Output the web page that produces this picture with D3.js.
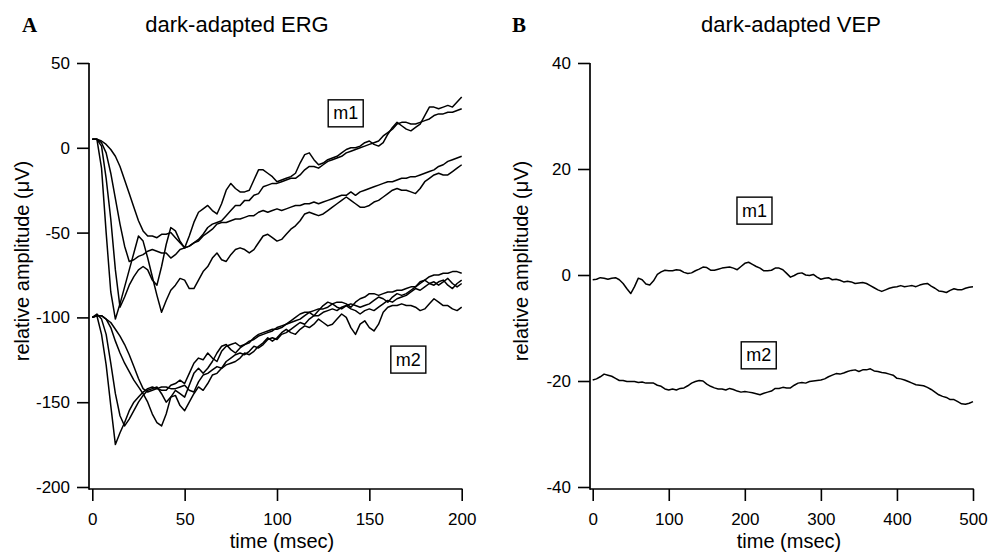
<!DOCTYPE html>
<html>
<head>
<meta charset="utf-8">
<script src="https://cdn.jsdelivr.net/npm/d3@7"></script>
<style>
  body { margin: 0; background: #fff; }
  svg { display: block; font-family: "Liberation Sans", Arial, sans-serif; }
</style>
</head>
<body>
<div id="chart"></div>
<script>
// ERG traces, one value every 2.5 ms from 0 to 200 ms
var ergStep = 2.5
var ergM1 = [
  [5, 5, -12, -50, -85, -101, -92, -82, -72, -62,
   -52, -55, -65, -76, -87, -97, -90, -84, -81, -77,
   -78, -83, -83, -78, -73, -70, -65, -62, -66, -67,
   -63, -60, -59, -60, -62, -60, -56, -52, -51, -53,
   -55, -54, -51, -48, -46, -43, -39, -38, -39, -40,
   -39, -37, -35, -33, -31, -29, -31, -33, -35, -35,
   -34, -32, -31, -29, -27, -25, -24, -25, -25, -26,
   -27, -24, -20, -18, -16, -15, -16, -16, -14, -12,
   -10],
  [5, 5, 1, -18, -42, -72, -94, -88, -81, -76,
   -72, -70, -72, -78, -81, -70, -57, -47, -49, -55,
   -59, -52, -44, -38, -36, -34, -37, -39, -33, -25,
   -21, -24, -26, -26, -25, -19, -13, -13, -15, -17,
   -20, -19, -18, -17, -15, -9, -4, -3, -7, -10,
   -9, -7, -6, -5, -3, -1, 0, 0, 1, 3,
   4, 2, 1, 3, 8, 12, 15, 13, 11, 10,
   12, 14, 19, 24, 24, 23, 24, 25, 24, 27,
   30],
  [5, 5, 3, -3, -15, -30, -45, -58, -67, -66,
   -64, -63, -61, -60, -61, -62, -62, -65, -63, -60,
   -59, -58, -56, -54, -51, -47, -45, -44, -43, -40,
   -37, -34, -34, -31, -31, -28, -27, -23, -22, -21,
   -21, -20, -19, -18, -18, -16, -13, -11, -11, -12,
   -10, -8, -7, -6, -5, -3, -2, -1, 0, 1,
   2, 3, 4, 7, 9, 11, 14, 15, 15, 14,
   14, 15, 16, 17, 19, 20, 20, 21, 21, 22,
   23],
  [5, 5, 4, 2, -1, -5, -11, -19, -27, -35,
   -43, -49, -52, -52, -53, -51, -51, -50, -53, -56,
   -59, -58, -56, -55, -52, -50, -48, -45, -44, -44,
   -43, -42, -42, -41, -40, -40, -38, -37, -38, -37,
   -36, -37, -36, -35, -34, -34, -33, -33, -32, -33,
   -32, -31, -30, -29, -28, -28, -26, -28, -26, -25,
   -24, -23, -22, -21, -20, -20, -19, -18, -18, -17,
   -17, -16, -15, -14, -13, -11, -10, -8, -7, -6,
   -5]
]
var ergM2 = [
  [-100, -99, -110, -128, -152, -175, -168, -162, -155, -150,
   -147, -144, -142, -141, -142, -143, -143, -140, -139, -137,
   -139, -133, -127, -124, -125, -121, -124, -126, -120, -117,
   -116, -115, -117, -116, -114, -113, -111, -110, -109, -108,
   -106, -105, -104, -103, -102, -101, -99, -97, -96, -95,
   -95, -94, -92, -91, -91, -92, -94, -91, -89, -88,
   -86, -86, -87, -86, -85, -85, -84, -84, -83, -82,
   -82, -80, -78, -76, -75, -75, -74, -74, -73, -73,
   -74],
  [-100, -98, -101, -110, -127, -145, -158, -164, -160, -155,
   -150, -146, -143, -142, -141, -145, -150, -147, -143, -145,
   -147, -140, -133, -130, -133, -130, -126, -121, -117, -116,
   -119, -121, -118, -116, -115, -112, -110, -109, -108, -107,
   -107, -106, -104, -102, -100, -98, -97, -97, -99, -96,
   -93, -91, -92, -94, -95, -93, -92, -93, -94, -93,
   -92, -90, -88, -89, -91, -88, -86, -87, -86, -84,
   -82, -79, -78, -80, -81, -79, -78, -81, -83, -80,
   -78],
  [-100, -99, -99, -101, -106, -114, -121, -127, -132, -137,
   -141, -145, -150, -157, -162, -164, -157, -147, -146, -152,
   -155, -150, -145, -141, -143, -139, -134, -133, -130, -128,
   -127, -126, -124, -121, -122, -120, -117, -115, -112, -114,
   -112, -109, -107, -109, -110, -107, -105, -106, -104, -101,
   -103, -105, -104, -101, -98, -100, -106, -110, -104, -102,
   -106, -108, -104, -97, -94, -93, -93, -92, -93, -93,
   -94, -96, -95, -92, -89, -91, -93, -93, -95, -96,
   -94],
  [-100, -99, -99, -101, -103, -107, -111, -116, -122, -129,
   -136, -142, -144, -143, -142, -141, -141, -142, -142, -141,
   -140, -143, -144, -138, -134, -133, -131, -129, -130, -126,
   -124, -122, -121, -122, -120, -117, -118, -116, -113, -112,
   -113, -110, -109, -107, -105, -103, -104, -101, -99, -99,
   -97, -96, -95, -96, -94, -93, -95, -96, -98, -96,
   -95, -96, -94, -92, -90, -91, -89, -88, -87, -85,
   -83, -84, -82, -80, -79, -81, -79, -77, -80, -82,
   -80]
]

// VEP traces, one value every 5 ms from 0 to 500 ms
var vepStep = 5
var vepM1 = [
  -0.9, -0.8, -0.5, -0.6, -0.8, -0.6, -0.5, -0.9, -1.6, -2.6,
  -3.5, -2.2, -0.6, -0.9, -1.7, -1.9, -1.1, 0.1, 0.6, 0.9,
  0.8, 0.8, 1.0, 0.9, 0.5, 0.3, 0.4, 0.8, 1.1, 1.5,
  1.4, 0.9, 0.9, 1.1, 1.3, 1.4, 1.5, 1.3, 1.0, 1.6,
  2.2, 2.4, 2.0, 1.6, 1.3, 0.8, 0.8, 0.9, 1.3, 1.3,
  1.0, 0.3, -0.4, -0.1, 0.3, 0.4, 0.0, -0.1, 0.1, -0.4,
  -0.8, -0.6, -0.5, -0.9, -0.8, -1.0, -1.3, -1.2, -1.3, -1.6,
  -1.5, -1.4, -1.6, -2.0, -2.4, -2.8, -3.1, -2.8, -2.5, -2.3,
  -2.2, -2.0, -2.2, -2.1, -2.0, -2.2, -1.9, -1.7, -1.6, -2.1,
  -2.5, -3.0, -3.1, -3.3, -2.9, -2.6, -2.8, -2.8, -2.5, -2.3,
  -2.2]
var vepM2 = [
  -19.8, -19.6, -19.2, -18.7, -18.9, -19.1, -19.5, -19.9, -19.9, -20.1,
  -20.1, -20.1, -20.3, -20.2, -20.4, -20.4, -20.4, -20.8, -21.0, -21.5,
  -21.7, -21.5, -21.7, -21.4, -21.3, -20.9, -20.4, -20.1, -19.9, -20.0,
  -20.6, -21.0, -21.3, -21.5, -21.5, -21.7, -21.4, -21.6, -21.9, -22.1,
  -22.0, -22.1, -22.2, -22.4, -22.6, -22.3, -22.1, -21.9, -21.4, -21.4,
  -21.2, -21.3, -21.3, -20.8, -20.4, -20.3, -20.4, -20.1, -20.0, -19.9,
  -19.8, -19.6, -19.2, -18.9, -18.6, -18.7, -18.5, -18.2, -18.0, -17.9,
  -18.2, -17.9, -17.9, -17.7, -18.1, -18.2, -18.4, -18.5, -18.7, -18.9,
  -19.5, -19.6, -19.8, -20.1, -20.4, -20.7, -20.8, -20.9, -21.2, -21.6,
  -22.1, -22.6, -22.9, -23.1, -23.5, -23.5, -23.9, -24.3, -24.4, -24.2,
  -23.9]

var ergTicksX = [0, 50, 100, 150, 200]
var ergTicksY = [50, 0, -50, -100, -150, -200]
var vepTicksX = [0, 100, 200, 300, 400, 500]
var vepTicksY = [40, 20, 0, -20, -40]

// trace labels, anchored in data units
var ergLabels = [{ text: "m1", t: 137.2, v: 20.5 }, { text: "m2", t: 171.1, v: -124.7 }]
var vepLabels = [{ text: "m1", t: 212.7, v: 12.2 }, { text: "m2", t: 218.3, v: -15.1 }]

var panels = [
  { letter: "A", title: "dark-adapted ERG", step: ergStep, traces: ergM1.concat(ergM2),
    xDomain: [0, 200], yDomain: [-200, 50], xTicks: ergTicksX, yTicks: ergTicksY, labels: ergLabels,
    left: 92.3, right: 461.7, axisX: 89, letterX: 22, titleX: 237, xLabelX: 282, yLabelX: 22 },
  { letter: "B", title: "dark-adapted VEP", step: vepStep, traces: [vepM1, vepM2],
    xDomain: [0, 500], yDomain: [-40, 40], xTicks: vepTicksX, yTicks: vepTicksY, labels: vepLabels,
    left: 592.7, right: 973, axisX: 590, letterX: 512, titleX: 791, xLabelX: 789, yLabelX: 521 }
]

var svg = d3.select("#chart").append("svg")
  .attr("width", 988)
  .attr("height", 552)

var plotTop = 63, plotBottom = 487, axisY = 489
var plain = d => String(d)   // hyphen minus, as in the figure

panels.forEach(function (p) {
  var x = d3.scaleLinear().domain(p.xDomain).range([p.left, p.right])
  var y = d3.scaleLinear().domain(p.yDomain).range([plotBottom, plotTop])
  var g = svg.append("g")

  // axes (ticks from d3, frame lines drawn separately)
  var xAxis = g.append("g")
    .attr("transform", "translate(0," + axisY + ")")
    .call(d3.axisBottom(x).tickValues(p.xTicks).tickFormat(plain).tickSize(12).tickPadding(12).tickSizeOuter(0))
  var yAxis = g.append("g")
    .attr("transform", "translate(" + p.axisX + ",0)")
    .call(d3.axisLeft(y).tickValues(p.yTicks).tickFormat(plain).tickSize(12).tickPadding(7).tickSizeOuter(0))

  ;[xAxis, yAxis].forEach(function (a) {
    a.select(".domain").remove()
    a.selectAll(".tick line").attr("stroke", "#000").attr("stroke-width", 1.6)
    a.selectAll(".tick text")
      .attr("fill", "#000")
      .style("font-family", "'Liberation Sans', Arial, sans-serif")
      .style("font-size", "17px")
  })

  g.append("line")
    .attr("x1", p.axisX).attr("x2", p.axisX)
    .attr("y1", plotTop).attr("y2", axisY + 0.8)
    .attr("stroke", "#000").attr("stroke-width", 1.7)
  g.append("line")
    .attr("x1", p.axisX).attr("x2", p.right + 0.8)
    .attr("y1", axisY).attr("y2", axisY)
    .attr("stroke", "#000").attr("stroke-width", 1.7)

  // traces
  var line = d3.line()
    .x((d, i) => x(i * p.step))
    .y(d => y(d))

  g.selectAll(".trace")
    .data(p.traces)
    .enter()
    .append("path")
    .attr("class", "trace")
    .attr("d", line)
    .attr("fill", "none")
    .attr("stroke", "#000")
    .attr("stroke-width", 1.5)
    .attr("stroke-linejoin", "round")

  // boxed labels
  p.labels.forEach(function (l) {
    var t = g.append("text")
      .text(l.text)
      .attr("x", x(l.t))
      .attr("y", y(l.v))
      .attr("dy", "0.35em")
      .attr("text-anchor", "middle")
      .attr("font-size", 18)
    var b = t.node().getBBox()
    g.insert("rect", () => t.node())
      .attr("x", b.x - 5)
      .attr("y", b.y - 3.5)
      .attr("width", b.width + 10)
      .attr("height", b.height + 7)
      .attr("fill", "#fff")
      .attr("stroke", "#000")
      .attr("stroke-width", 1.4)
  })

  // titles and axis labels
  g.append("text")
    .text(p.letter)
    .attr("x", p.letterX)
    .attr("y", 32)
    .attr("font-family", "'Liberation Serif', 'Times New Roman', serif")
    .attr("font-weight", "bold")
    .attr("font-size", 21)

  g.append("text")
    .text(p.title)
    .attr("x", p.titleX)
    .attr("y", 32)
    .attr("text-anchor", "middle")
    .attr("font-size", 22)

  g.append("text")
    .text("time (msec)")
    .attr("x", p.xLabelX)
    .attr("y", 548)
    .attr("text-anchor", "middle")
    .attr("font-size", 20)

  g.append("text")
    .text("relative amplitude (\u03bcV)")
    .attr("transform", "translate(" + p.yLabelX + ",261) rotate(-90)")
    .attr("dy", "0.35em")
    .attr("text-anchor", "middle")
    .attr("font-size", 20)
})
</script>
</body>
</html>
